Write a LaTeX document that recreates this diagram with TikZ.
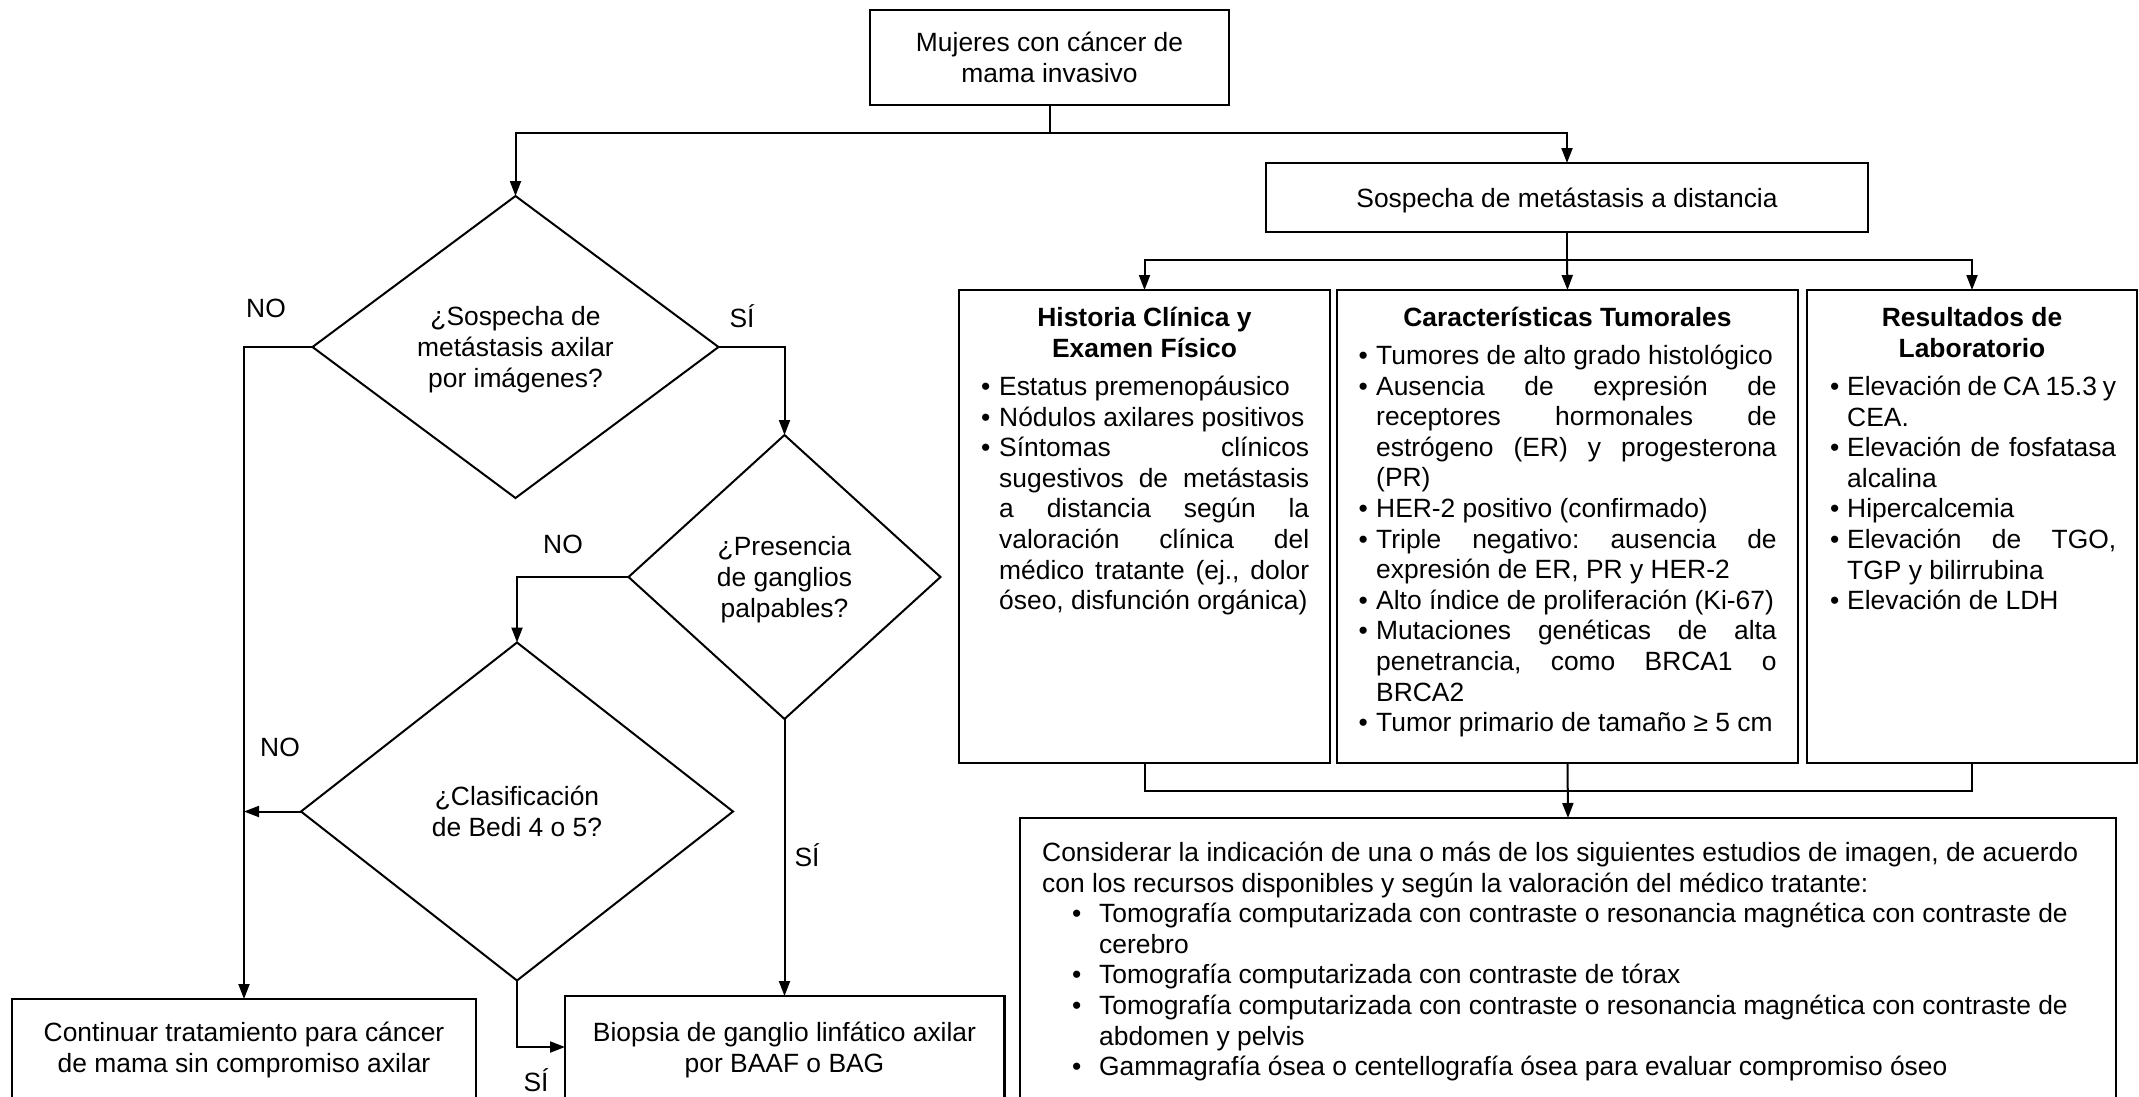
\documentclass[tikz,border=0pt]{standalone}
\usepackage{fontspec}
\setmainfont{Liberation Sans}
\usetikzlibrary{shapes.geometric,arrows.meta}
\newdimen\mybh
\newcommand\fitem[1]{\hangindent=\mybh\hangafter=1\makebox[\mybh][l]{•}#1}
\newcommand\bitem[1]{\par\noindent\hangindent=\mybh\hangafter=1\makebox[\mybh][l]{•}#1}
\tolerance=10000 \hbadness=10000 \hyphenpenalty=10000 \exhyphenpenalty=10000
\frenchspacing
\begin{document}
\begin{tikzpicture}[x=1pt,y=-1pt,
  every node/.style={font=\fontsize{26.4}{30.6}\selectfont\frenchspacing},
  box/.style={draw,line width=2.8pt,inner sep=0pt,outer sep=0pt},
  txtbox/.style={box,align=center},
  dia/.style={draw,diamond,line width=2pt,inner sep=0pt,outer sep=0pt,align=center,text depth=0pt},
  conn/.style={line width=2pt},
  arr/.style={conn,-{Triangle[length=15pt,width=11pt]}},
  lbl/.style={inner sep=0pt},
  ttl/.style={anchor=base,align=center,inner sep=0pt,font=\fontsize{26.4}{30.6}\selectfont\bfseries},
  lst/.style={anchor=base west,align=justify,inner sep=0pt},
  plain/.style={anchor=base,align=center,inner sep=0pt}]
\useasboundingbox (0,0) rectangle (2139,1096);

% boxes
\node[txtbox,minimum width=359pt,minimum height=95pt] (top) at (1049.5,57.5) {Mujeres con cáncer de\\mama invasivo};
\node[txtbox,minimum width=602pt,minimum height=69pt,text depth=0pt] (sosp) at (1567,197.5) {Sospecha de metástasis a distancia};
\node[box,minimum width=371pt,minimum height=473pt] (hist) at (1144.5,526.5) {};
\node[box,minimum width=461pt,minimum height=473pt] (tum) at (1567.5,526.5) {};
\node[box,minimum width=330pt,minimum height=473pt] (lab) at (1972,526.5) {};
\node[box,minimum width=1096pt,minimum height=282pt] (big) at (1568,959) {};
\node[box,minimum width=464pt,minimum height=101pt] (cont) at (244,1049.5) {};
\node[box,minimum width=439.5pt,minimum height=104pt] (bio) at (784.75,1048) {};

% diamonds
\node[dia,minimum width=406pt,minimum height=302pt] (d1) at (515.5,347) {¿Sospecha de\\metástasis axilar\\por imágenes?};
\node[dia,minimum width=312pt,minimum height=284pt] (d2) at (784.5,577) {¿Presencia\\de ganglios\\palpables?};
\node[dia,minimum width=432pt,minimum height=338pt] (d3) at (517,811.5) {¿Clasificación\\de Bedi 4 o 5?};

% texts in boxes
\node[ttl] (histT) at (1144.5,357.1) {Historia Clínica y\\Examen Físico};
\node[ttl] (tumT) at (1567.5,326.5) {Características Tumorales};
\node[ttl] (labT) at (1972,357.1) {Resultados de\\Laboratorio};

\node[lst,text width=328pt] (histL) at (981,395.5) {\mybh=18pt\spaceskip=.278em plus 1em minus .15em
\fitem{Estatus premenopáusico}\bitem{Nódulos axilares positivos}\bitem{Síntomas clínicos\linebreak sugestivos de metástasis\linebreak a distancia según la\linebreak valoración clínica del\linebreak médico tratante (ej., dolor\linebreak óseo, disfunción orgánica)}\par};

\node[lst,text width=418pt] (tumL) at (1358.5,364.5) {\mybh=17.5pt\spaceskip=.278em plus 1em minus .15em
\fitem{Tumores de alto grado histológico}\bitem{Ausencia de expresión de\linebreak receptores hormonales de\linebreak estrógeno (ER) y progesterona\linebreak (PR)}\bitem{HER-2 positivo (confirmado)}\bitem{Triple negativo: ausencia de\linebreak expresión de ER, PR y HER-2}\bitem{Alto índice de proliferación (Ki-67)}\bitem{Mutaciones genéticas de alta\linebreak penetrancia, como BRCA1 o\linebreak BRCA2}\bitem{Tumor primario de tamaño ≥ 5 cm}\par};

\node[lst,text width=286pt] (labL) at (1830,395.5) {\mybh=17pt\spaceskip=.278em plus 1em minus .15em
\fitem{Elevación de CA 15.3 y\linebreak CEA.}\bitem{Elevación de fosfatasa\linebreak alcalina}\bitem{Hipercalcemia}\bitem{Elevación de TGO,\linebreak TGP y bilirrubina}\bitem{Elevación de LDH}\par};

\node[anchor=base west,align=left,inner sep=0pt] (bigT) at (1042,1075.7) {Considerar la indicación de una o más de los siguientes estudios de imagen, de acuerdo\\
con los recursos disponibles y según la valoración del médico tratante:\\
\hspace*{30pt}\makebox[27pt][l]{•}Tomografía computarizada con contraste o resonancia magnética con contraste de\\
\hspace*{57pt}cerebro\\
\hspace*{30pt}\makebox[27pt][l]{•}Tomografía computarizada con contraste de tórax\\
\hspace*{30pt}\makebox[27pt][l]{•}Tomografía computarizada con contraste o resonancia magnética con contraste de\\
\hspace*{57pt}abdomen y pelvis\\
\hspace*{30pt}\makebox[27pt][l]{•}Gammagrafía ósea o centellografía ósea para evaluar compromiso óseo};

\node[plain] (contT) at (244,1072.1) {Continuar tratamiento para cáncer\\de mama sin compromiso axilar};
\node[plain] (bioT) at (784.5,1072.1) {Biopsia de ganglio linfático axilar\\por BAAF o BAG};

% labels
\node[lbl] (no1) at (266,308) {NO};
\node[lbl] (si1) at (742,316) {SÍ};
\node[lbl] (no2) at (563,544) {NO};
\node[lbl] (no3) at (280,747) {NO};
\node[lbl] (si2) at (807,855) {SÍ};
\node[lbl] (si3) at (536,1080) {SÍ};

% connectors
\draw[conn] (top.south) -- ++(0,27.5) coordinate (j1);
\draw[arr] (j1) -| (d1.north);
\draw[arr] (j1) -| (sosp.north);
\draw[arr] (d1.west) -| (cont.north);
\draw[arr] (d1.east) -| (d2.north);
\draw[arr] (d2.west) -| (d3.north);
\draw[arr] (d3.west) -- (d3.west -| cont.north);
\draw[arr] (d3.south) |- ([yshift=-51pt]bio.north west);
\draw[arr] (d2.south) -- (d2.south |- bio.north);
\draw[conn] (sosp.south) -- ++(0,28) coordinate (j2);
\draw[arr] (j2) -| (hist.north);
\draw[arr] (j2) -| (lab.north);
\draw[arr] (j2) -- (tum.north);
\draw[conn] (hist.south) -- ++(0,28) -| (lab.south);
\draw[arr] (tum.south) -- (big.north);
\end{tikzpicture}
\end{document}
